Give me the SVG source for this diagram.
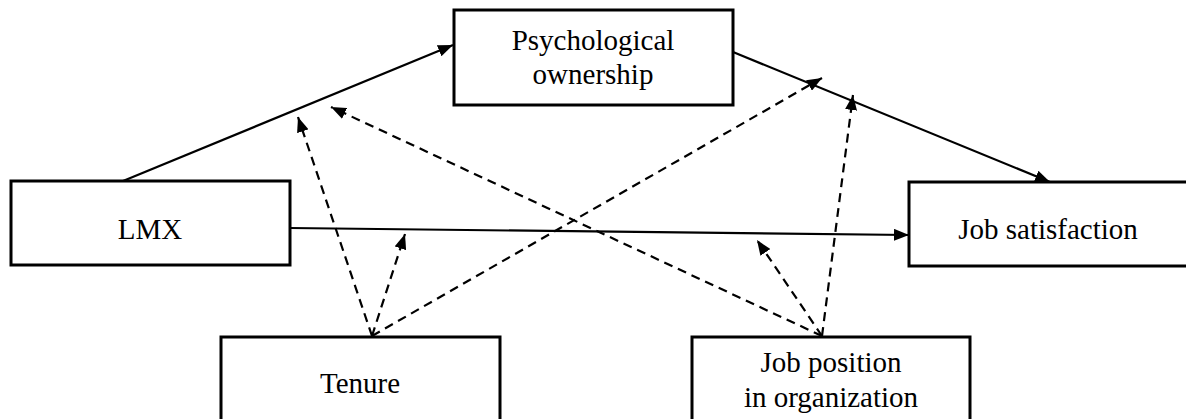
<svg xmlns="http://www.w3.org/2000/svg" width="1186" height="419" viewBox="0 0 1186 419">
  <style>
    .box { fill: #ffffff; stroke: #000000; stroke-width: 3; }
    .label { font-family: "Liberation Serif", "Times New Roman", serif; font-size: 29px; fill: #000000; text-anchor: middle; }
    .solid { fill: none; stroke: #000000; stroke-width: 2.2; }
    .dashed { fill: none; stroke: #000000; stroke-width: 2.2; stroke-dasharray: 9 6; }
  </style>
  <defs>
    <marker id="arrow" viewBox="0 0 15 12" refX="15" refY="6" markerWidth="15" markerHeight="12" markerUnits="userSpaceOnUse" orient="auto">
      <path d="M0,0 L15,6 L0,12 Z" fill="#000000"/>
    </marker>
  </defs>

  <rect width="1186" height="419" fill="#ffffff"/>

  <!-- connectors -->
  <g id="connectors">
    <line class="solid" x1="123" y1="181" x2="453" y2="45" marker-end="url(#arrow)"/>
    <line class="solid" x1="733" y1="52" x2="1050" y2="182" marker-end="url(#arrow)"/>
    <line class="solid" x1="290" y1="228" x2="909" y2="235" marker-end="url(#arrow)"/>

    <line class="dashed" x1="372" y1="336" x2="298" y2="117" marker-end="url(#arrow)"/>
    <line class="dashed" x1="372" y1="336" x2="405" y2="234" marker-end="url(#arrow)"/>
    <line class="dashed" x1="372" y1="336" x2="822" y2="78" marker-end="url(#arrow)"/>

    <line class="dashed" x1="822" y1="336" x2="331" y2="107" marker-end="url(#arrow)"/>
    <line class="dashed" x1="822" y1="336" x2="853" y2="95" marker-end="url(#arrow)"/>
    <line class="dashed" x1="822" y1="336" x2="757" y2="240" marker-end="url(#arrow)"/>
  </g>

  <!-- nodes -->
  <g id="psychological-ownership">
    <rect class="box" x="454" y="10" width="279" height="95"/>
    <text class="label" x="593" y="50">Psychological</text>
    <text class="label" x="593" y="84">ownership</text>
  </g>

  <g id="lmx">
    <rect class="box" x="11" y="181" width="279" height="84"/>
    <text class="label" x="150" y="239">LMX</text>
  </g>

  <g id="job-satisfaction">
    <rect class="box" x="909" y="182" width="290" height="84"/>
    <text class="label" x="1048" y="239">Job satisfaction</text>
  </g>

  <g id="tenure">
    <rect class="box" x="221" y="337" width="279" height="90"/>
    <text class="label" x="360" y="393">Tenure</text>
  </g>

  <g id="job-position">
    <rect class="box" x="692" y="337" width="278" height="90"/>
    <text class="label" x="831" y="372">Job position</text>
    <text class="label" x="831" y="407">in organization</text>
  </g>
</svg>
